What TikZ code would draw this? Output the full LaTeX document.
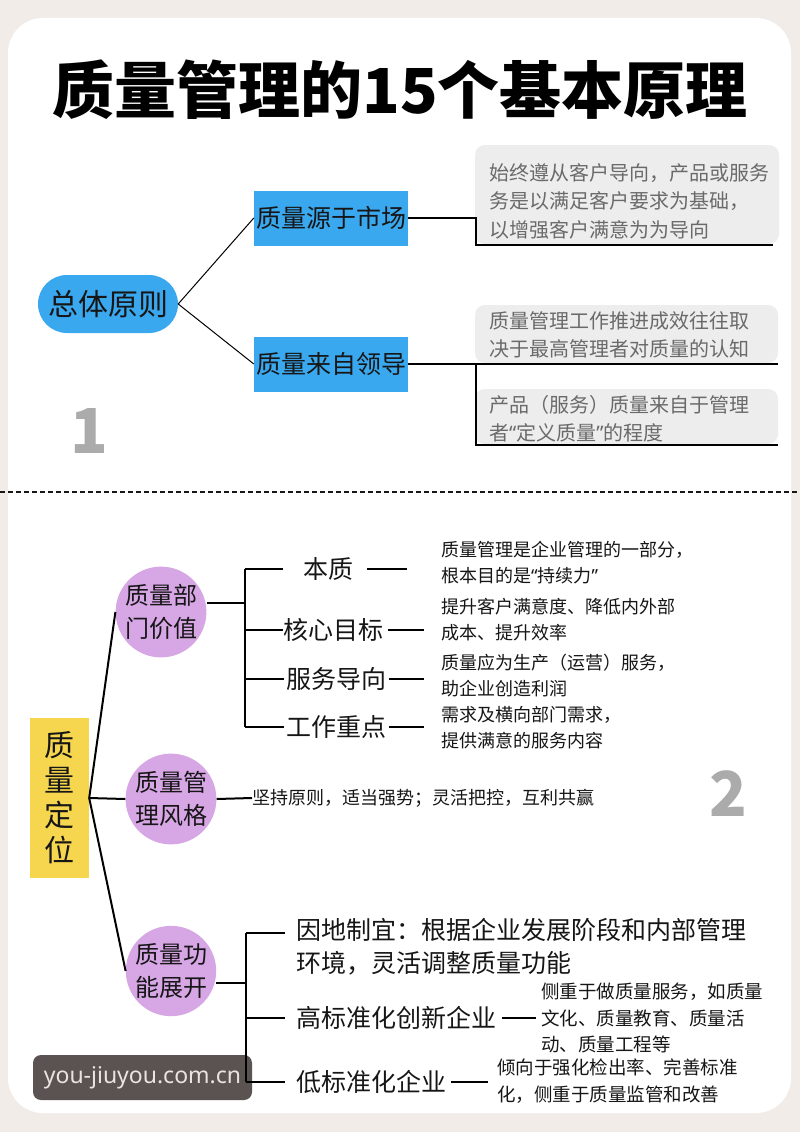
\documentclass[tikz,border=0pt]{standalone}
\usepackage{fontspec}
\setmainfont{Noto Sans CJK SC}
\newfontfamily\latinf{Noto Sans}
\usetikzlibrary{calc}
\definecolor{bgout}{HTML}{F2ECE9}
\definecolor{blueb}{HTML}{3AA8EF}
\definecolor{grayb}{HTML}{EDEDED}
\definecolor{grayt}{HTML}{6A6A6A}
\definecolor{purp}{HTML}{D7A6E5}
\definecolor{yel}{HTML}{F6D64E}
\definecolor{numg}{HTML}{ABABAB}
\definecolor{wmbg}{HTML}{5B5351}
\definecolor{wmtx}{HTML}{EAE3E2}
\definecolor{ink}{HTML}{161616}
\newcommand{\myLq}{{\latinf “}}
\newcommand{\myRq}{{\latinf ”}}
\tikzset{
  pill/.style={fill=blueb, rounded corners=29pt, minimum width=140pt, minimum height=58pt, inner sep=0pt, text=ink, font=\fontsize{30}{34}\selectfont},
  bluebox/.style={fill=blueb, minimum width=154pt, minimum height=55pt, inner sep=0pt, text=ink, font=\fontsize{25}{30}\selectfont},
  gtext/.style={anchor=west, align=left, inner sep=0pt, text=grayt, font=\fontsize{20}{28.5}\selectfont},
  gbox/.style={fill=grayb, rounded corners=10pt},
  thinl/.style={line width=1pt, black},
  thk/.style={line width=1.8pt, black},
  ln/.style={line width=2pt, black},
  ybox/.style={fill=yel, minimum width=59pt, minimum height=160pt, inner sep=0pt, align=center, text=ink, font=\fontsize{30}{35}\selectfont},
  pc/.style={circle, fill=purp, minimum size=88pt, inner sep=0pt, align=center, text=ink, font=\fontsize{24}{33}\selectfont},
  lab/.style={inner sep=0pt, text=ink, font=\fontsize{25}{33}\selectfont},
  desc/.style={anchor=west, align=left, inner sep=0pt, text=ink, font=\fontsize{18}{26}\selectfont},
  num/.style={inner sep=0pt, text=numg, font=\bfseries\fontsize{62}{62}\selectfont},
  wmk/.style={fill=wmbg, rounded corners=8pt, minimum width=219pt, minimum height=45pt, inner sep=0pt, text=wmtx, font=\latinf\fontsize{23}{24}\selectfont},
}
\begin{document}
\begin{tikzpicture}[x=1pt, y=-1pt]
\useasboundingbox (0,0) rectangle (800,1132);
\fill[bgout] (0,0) rectangle (800,1132);
\fill[white, rounded corners=35pt] (8,18) rectangle (791,1113);

% title
\node[inner sep=0pt, text=black, font=\fontsize{62}{62}\selectfont\bfseries] (title) at (400,90) {质量管理的15个基本原理};

% ---------- section 1 ----------
\node[pill] (zt) at (108,304) {总体原则};
\node[bluebox] (m1) at (331,218) {质量源于市场};
\node[bluebox] (m2) at (331,364) {质量来自领导};
\draw[thinl] (zt.east) -- (m1.west);
\draw[thinl] (zt.east) -- (m2.west);

\fill[gbox] (475,145) rectangle (779,244);
\fill[gbox] (475,305) rectangle (778,363);
\fill[gbox] (475,389) rectangle (778,444);
\node[gtext] (d1) at (489,201) {始终遵从客户导向，产品或服务\\务是以满足客户要求为基础，\\以增强客户满意为为导向};
\node[gtext] (d2) at (489,335) {质量管理工作推进成效往往取\\决于最高管理者对质量的认知};
\node[gtext] (d3) at (489,419) {产品（服务）质量来自于管理\\者\myLq 定义质量\myRq 的程度};

\coordinate (u1s) at (476,245);
\coordinate (u1e) at (773,245);
\coordinate (u2e) at (778,364);
\coordinate (u3s) at (476,445);
\coordinate (u3e) at (778,445);
\draw[thk] (m1.east) -| (u1s) -- (u1e);
\draw[thk] (m2.east) -- (u2e);
\draw[thk] (m2.east -| u3s) -- (u3s) -- (u3e);

\node[num] (n1) at (89,431) {1};

% dashed divider
\coordinate (dvl) at (0,492);
\coordinate (dvr) at (800,492);
\draw[line width=1.6pt, color=ink, dash pattern=on 5pt off 3pt] (dvl) -- (dvr);

% ---------- section 2 ----------
\node[ybox] (qd) at (59.5,798) {质\\量\\定\\位};
\node[pc] (p1) at (161,612) {质量部\\门价值};
\node[pc] (p2) at (171,799) {质量管\\理风格};
\node[pc] (p3) at (171,971) {质量功\\能展开};
\draw[ln] (qd.east) -- (p1.west);
\draw[ln] (qd.east) -- (p2.west);
\draw[ln] (qd.east) -- (p3.west);

% branch of p1
\coordinate (b1) at (245,603);
\coordinate (b1t) at (245,569);
\coordinate (b1b) at (245,727);
\draw[ln] (p1.east |- b1) -- (b1);
\draw[ln] (b1t) -- (b1b);
\node[lab] (l1) at (328,569) {本质};
\node[lab] (l2) at (333,630) {核心目标};
\node[lab] (l3) at (336,679) {服务导向};
\node[lab] (l4) at (336,727) {工作重点};
\node[desc] (e1) at (441,563) {质量管理是企业管理的一部分，\\根本目的是\myLq 持续力\myRq};
\node[desc] (e2) at (441,620) {提升客户满意度、降低内外部\\成本、提升效率};
\node[desc] (e3) at (441,675.5) {质量应为生产（运营）服务，\\助企业创造利润};
\node[desc] (e4) at (441,727.5) {需求及横向部门需求，\\提供满意的服务内容};
\draw[ln, shorten >=20pt] (b1t) -- (l1.west);
\draw[ln] (l2.west -| b1t) -- (l2.west);
\draw[ln, shorten >=2pt] (l3.west -| b1t) -- (l3.west);
\draw[ln, shorten >=2pt] (b1b) -- (l4.west);
\draw[ln, shorten <=14pt, shorten >=34pt] (l1.east) -- (l1.east -| e1.west);
\draw[ln, shorten <=5pt, shorten >=17pt] (l2.east) -- (l2.east -| e2.west);
\draw[ln, shorten <=3pt, shorten >=17pt] (l3.east) -- (l3.east -| e3.west);
\draw[ln, shorten <=3pt, shorten >=17pt] (l4.east) -- (l4.east -| e4.west);

% p2
\node[desc] (s2) at (252,798) {坚持原则，适当强势；灵活把控，互利共赢};
\draw[ln] (p2.east) -- (s2.west);
\node[num] (n2) at (728,794) {2};

% watermark (under the bracket)
\node[wmk] (wm) at (142.5,1077.5) {you-jiuyou.com.cn};

% branch of p3
\coordinate (b3) at (246,983);
\coordinate (b3t) at (246,933);
\coordinate (b3b) at (246,1082);
\draw[ln] (p3.east |- b3) -- (b3);
\draw[ln] (b3t) -- (b3b);
\node[lab, anchor=west, align=left] (f1) at (296,947) {因地制宜：根据企业发展阶段和内部管理\\环境，灵活调整质量功能};
\node[lab, anchor=west] (f2) at (296,1018) {高标准化创新企业};
\node[lab, anchor=west] (f3) at (296,1082) {低标准化企业};
\node[desc, font=\fontsize{18.5}{26.5}\selectfont] (g2) at (541,1018) {侧重于做质量服务，如质量\\文化、质量教育、质量活\\动、质量工程等};
\node[desc, font=\fontsize{18.5}{27}\selectfont] (g3) at (497,1081.5) {倾向于强化检出率、完善标准\\化，侧重于质量监管和改善};
\draw[ln, shorten >=11pt] (b3t) -- (b3t -| f1.west);
\draw[ln, shorten >=11pt] (f2.west -| b3t) -- (f2.west);
\draw[ln, shorten >=11pt] (b3b) -- (f3.west);
\draw[ln, shorten <=6pt, shorten >=5pt] (f2.east) -- (f2.east -| g2.west);
\draw[ln, shorten <=5pt, shorten >=9pt] (f3.east) -- (f3.east -| g3.west);
\end{tikzpicture}
\end{document}
